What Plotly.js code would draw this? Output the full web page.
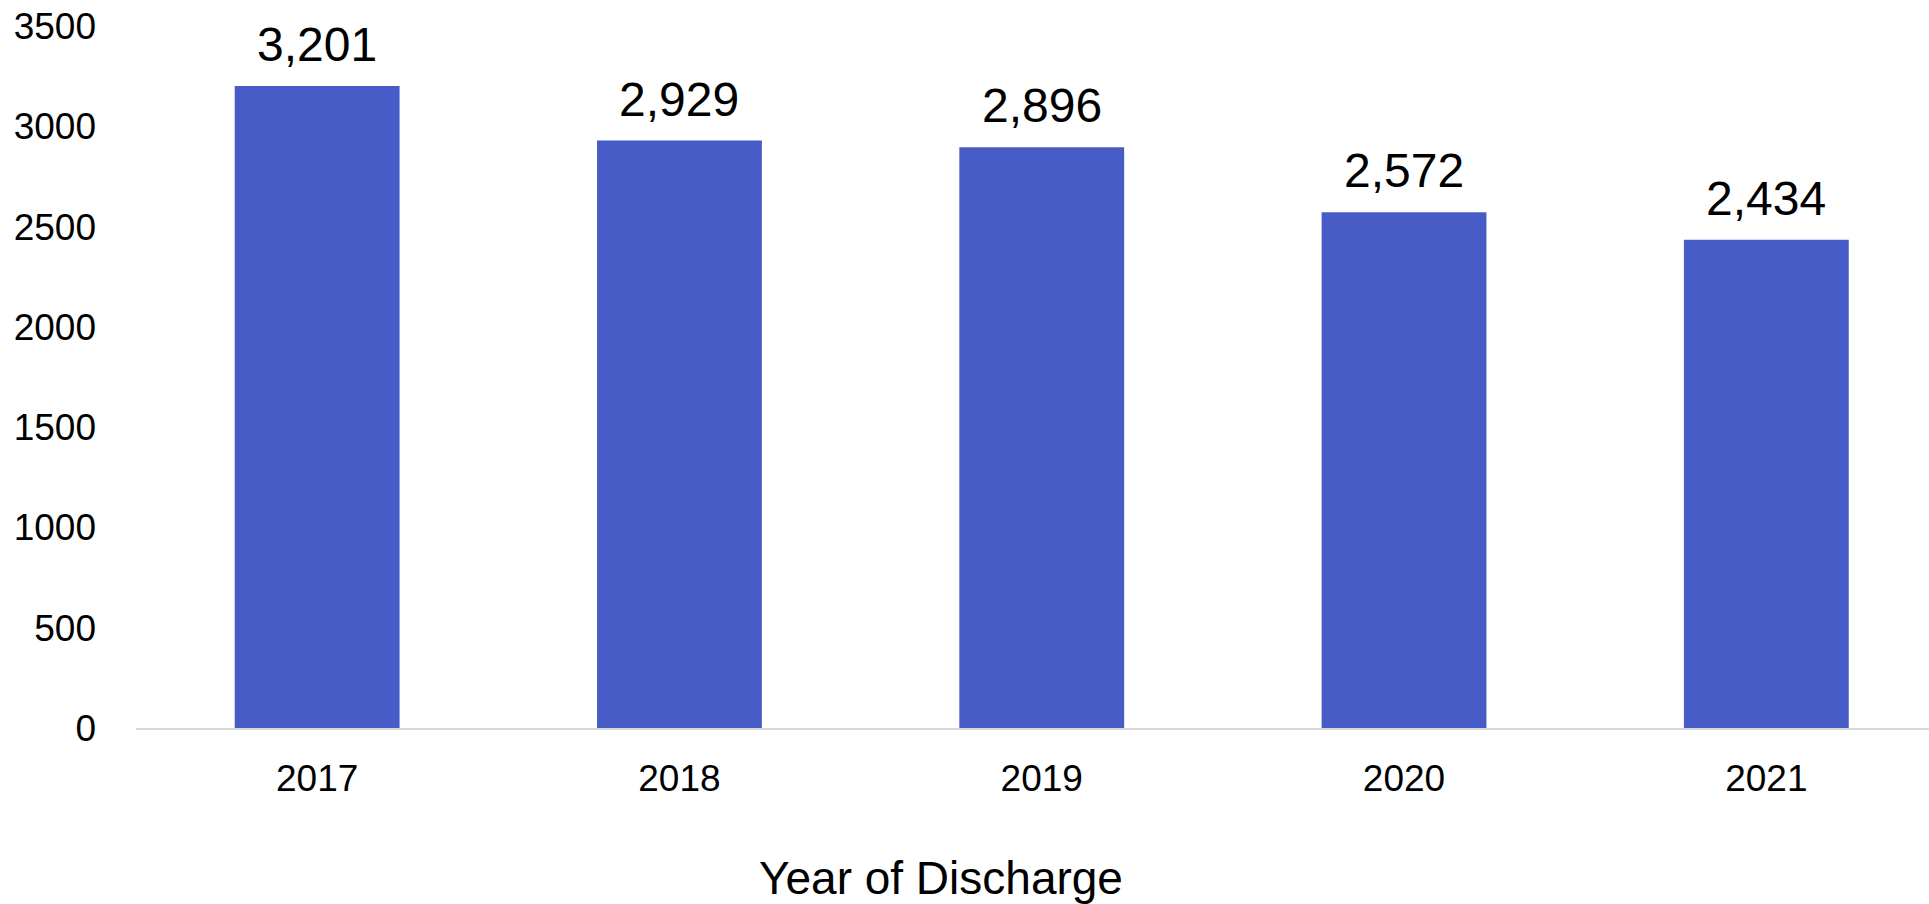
<!DOCTYPE html>
<html>
<head>
<meta charset="utf-8">
<script src="https://cdn.plot.ly/plotly-3.0.1.min.js"></script>
<style>html,body{margin:0;padding:0;background:#fff;}#chart{width:1929px;height:904px;}</style>
</head>
<body>
<div id="chart"></div>
<script>
var years = ['2017', '2018', '2019', '2020', '2021'];
var discharges = [3201, 2929, 2896, 2572, 2434];
var yTickValues = [0, 500, 1000, 1500, 2000, 2500, 3000, 3500];
var xAxisTitle = 'Year of Discharge';

var FONT = '"Liberation Sans", Roboto, sans-serif';

var trace = {
  type: 'bar',
  x: years,
  y: discharges,
  marker: {color: '#485CC7'},
  cliponaxis: false,
  hoverinfo: 'none'
};

// value labels placed at each bar's category index and value via the axes
var labelAnnotations = years.map(function (yr, i) {
  return {
    x: i, y: discharges[i],
    xref: 'x', yref: 'y',
    text: discharges[i].toLocaleString('en-US'),
    showarrow: false,
    xanchor: 'center', yanchor: 'bottom',
    yshift: 13,
    font: {family: FONT, size: 48, color: '#000'}
  };
});

var layout = {
  width: 1929,
  height: 904,
  margin: {l: 136, r: 0, t: 26, b: 176},
  paper_bgcolor: '#fff',
  plot_bgcolor: '#fff',
  bargap: 0.545,
  showlegend: false,
  font: {family: FONT, color: '#000'},
  xaxis: {
    type: 'category',
    range: [-0.5, 4.449],
    showline: true,
    linecolor: '#D9D9D9',
    linewidth: 2,
    showgrid: false,
    zeroline: false,
    ticks: '',
    ticklabelstandoff: 17,
    tickfont: {family: FONT, size: 37, color: '#000'}
  },
  yaxis: {
    range: [0, 3500],
    tickvals: yTickValues,
    showgrid: false,
    zeroline: false,
    showline: false,
    ticks: '',
    ticklabelstandoff: 39,
    tickfont: {family: FONT, size: 37, color: '#000'}
  },
  annotations: labelAnnotations.concat([{
    text: xAxisTitle,
    xref: 'paper', yref: 'paper',
    x: 0.449, y: -0.2137,
    xanchor: 'center', yanchor: 'middle',
    showarrow: false,
    font: {family: FONT, size: 46, color: '#000'}
  }])
};

Plotly.newPlot('chart', [trace], layout, {displayModeBar: false, staticPlot: true});
</script>
</body>
</html>
